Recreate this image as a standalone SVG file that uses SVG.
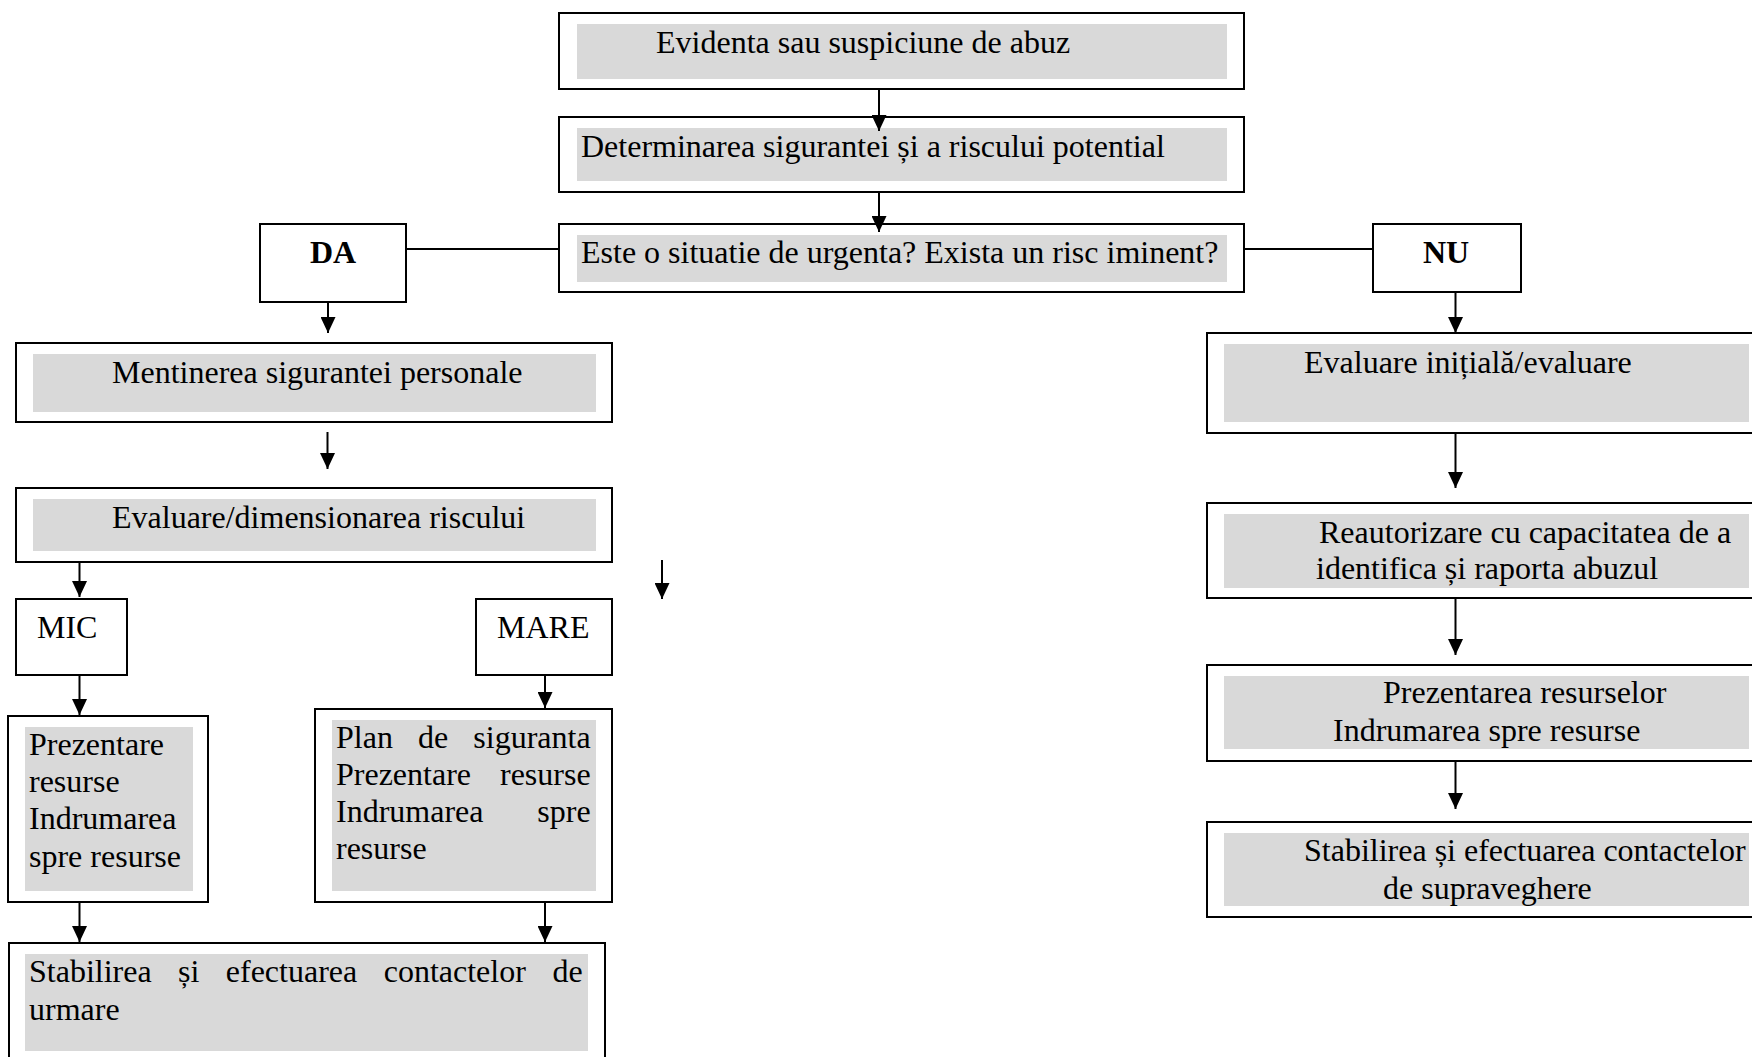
<svg xmlns="http://www.w3.org/2000/svg" width="1752" height="1057" viewBox="0 0 1752 1057">
<style>
.box{fill:#ffffff;stroke:#000000;stroke-width:2}
.fill{fill:#d9d9d9;stroke:none}
.t{font-family:"Liberation Serif","Times New Roman",serif;font-size:32px;fill:#000000}
.b{font-weight:bold}
.c{stroke:#000000;stroke-width:2;fill:none}
.a{stroke:#000000;stroke-width:2;fill:none;marker-end:url(#arr)}
</style>
<defs>
<marker id="arr" viewBox="0 0 16 15" markerWidth="16" markerHeight="15" refX="16" refY="7.5" orient="auto" markerUnits="userSpaceOnUse">
<path d="M0,0 L16,7.5 L0,15 Z" fill="#000000"/>
</marker>
</defs>
<rect width="1752" height="1057" fill="#ffffff"/>

<g id="n-evidenta">
<rect class="box" x="559" y="13" width="685" height="76"/>
<rect class="fill" x="577" y="24" width="650" height="55"/>
<text class="t" x="656" y="53">Evidenta sau suspiciune de abuz</text>
</g>

<g id="n-determinarea">
<rect class="box" x="559" y="117" width="685" height="75"/>
<rect class="fill" x="577" y="128" width="650" height="53"/>
<text class="t" x="581" y="157">Determinarea sigurantei și a riscului potential</text>
</g>

<g id="n-urgenta">
<rect class="box" x="559" y="224" width="685" height="68"/>
<rect class="fill" x="577" y="235" width="650" height="47"/>
<text class="t" x="581" y="263">Este o situatie de urgenta? Exista un risc iminent?</text>
</g>

<g id="n-da">
<rect class="box" x="260" y="224" width="146" height="78"/>
<text class="t b" x="333" y="263" text-anchor="middle">DA</text>
</g>

<g id="n-nu">
<rect class="box" x="1373" y="224" width="148" height="68"/>
<text class="t b" x="1446" y="263" text-anchor="middle">NU</text>
</g>

<g id="n-mentinerea">
<rect class="box" x="16" y="343" width="596" height="79"/>
<rect class="fill" x="33" y="354" width="563" height="58"/>
<text class="t" x="112" y="383">Mentinerea sigurantei personale</text>
</g>

<g id="n-evaluare-dim">
<rect class="box" x="16" y="488" width="596" height="74"/>
<rect class="fill" x="33" y="499" width="563" height="52"/>
<text class="t" x="112" y="528">Evaluare/dimensionarea riscului</text>
</g>

<g id="n-mic">
<rect class="box" x="16" y="599" width="111" height="76"/>
<text class="t" x="37" y="638">MIC</text>
</g>

<g id="n-mare">
<rect class="box" x="476" y="599" width="136" height="76"/>
<text class="t" x="497" y="638">MARE</text>
</g>

<g id="n-prezentare-mic">
<rect class="box" x="8" y="716" width="200" height="186"/>
<rect class="fill" x="25" y="727" width="168" height="164"/>
<text class="t" x="29" y="755">Prezentare</text>
<text class="t" x="29" y="792">resurse</text>
<text class="t" x="29" y="829">Indrumarea</text>
<text class="t" x="29" y="867">spre resurse</text>
</g>

<g id="n-plan">
<rect class="box" x="315" y="709" width="297" height="193"/>
<rect class="fill" x="332" y="720" width="264" height="171"/>
<text class="t" y="748"><tspan x="336">Plan</tspan><tspan x="418">de</tspan><tspan x="473.3">siguranta</tspan></text>
<text class="t" y="785"><tspan x="336">Prezentare</tspan><tspan x="500">resurse</tspan></text>
<text class="t" y="822"><tspan x="336">Indrumarea</tspan><tspan x="537.3">spre</tspan></text>
<text class="t" x="336" y="859">resurse</text>
</g>

<g id="n-stabilirea-urmare">
<rect class="box" x="9" y="943" width="596" height="130"/>
<rect class="fill" x="25" y="954" width="563" height="97"/>
<text class="t" y="982"><tspan x="29">Stabilirea</tspan><tspan x="178">și</tspan><tspan x="225.8">efectuarea</tspan><tspan x="383.7">contactelor</tspan><tspan x="552.4">de</tspan></text>
<text class="t" x="29" y="1020">urmare</text>
</g>

<g id="n-evaluare-initiala">
<rect class="box" x="1207" y="333" width="560" height="100"/>
<rect class="fill" x="1224" y="344" width="525" height="78"/>
<text class="t" x="1304" y="373">Evaluare inițială/evaluare</text>
</g>

<g id="n-reautorizare">
<rect class="box" x="1207" y="503" width="560" height="95"/>
<rect class="fill" x="1224" y="514" width="525" height="74"/>
<text class="t" x="1319" y="543">Reautorizare cu capacitatea de a</text>
<text class="t" x="1316" y="579">identifica și raporta abuzul</text>
</g>

<g id="n-prezentarea">
<rect class="box" x="1207" y="665" width="560" height="96"/>
<rect class="fill" x="1224" y="676" width="525" height="73"/>
<text class="t" x="1383" y="703">Prezentarea resurselor</text>
<text class="t" x="1333" y="741">Indrumarea spre resurse</text>
</g>

<g id="n-stabilirea-supraveghere">
<rect class="box" x="1207" y="822" width="560" height="95"/>
<rect class="fill" x="1224" y="833" width="525" height="73"/>
<text class="t" x="1304" y="861">Stabilirea și efectuarea contactelor</text>
<text class="t" x="1383" y="899">de supraveghere</text>
</g>

<g id="connectors">
<line class="a" x1="879" y1="89" x2="879" y2="131"/>
<line class="a" x1="879" y1="192" x2="879" y2="232"/>
<line class="c" x1="406" y1="249" x2="559" y2="249"/>
<line class="c" x1="1244" y1="249" x2="1373" y2="249"/>
<line class="a" x1="328" y1="302" x2="328" y2="333"/>
<line class="a" x1="327.5" y1="432" x2="327.5" y2="469"/>
<line class="a" x1="79.5" y1="562" x2="79.5" y2="597"/>
<line class="a" x1="662" y1="560" x2="662" y2="599"/>
<line class="a" x1="79.5" y1="675" x2="79.5" y2="715"/>
<line class="a" x1="545" y1="675" x2="545" y2="708"/>
<line class="a" x1="79.5" y1="902" x2="79.5" y2="942"/>
<line class="a" x1="545" y1="902" x2="545" y2="942"/>
<line class="a" x1="1455.5" y1="292" x2="1455.5" y2="333"/>
<line class="a" x1="1455.5" y1="433" x2="1455.5" y2="488"/>
<line class="a" x1="1455.5" y1="598" x2="1455.5" y2="655"/>
<line class="a" x1="1455.5" y1="761" x2="1455.5" y2="809"/>
</g>
</svg>
